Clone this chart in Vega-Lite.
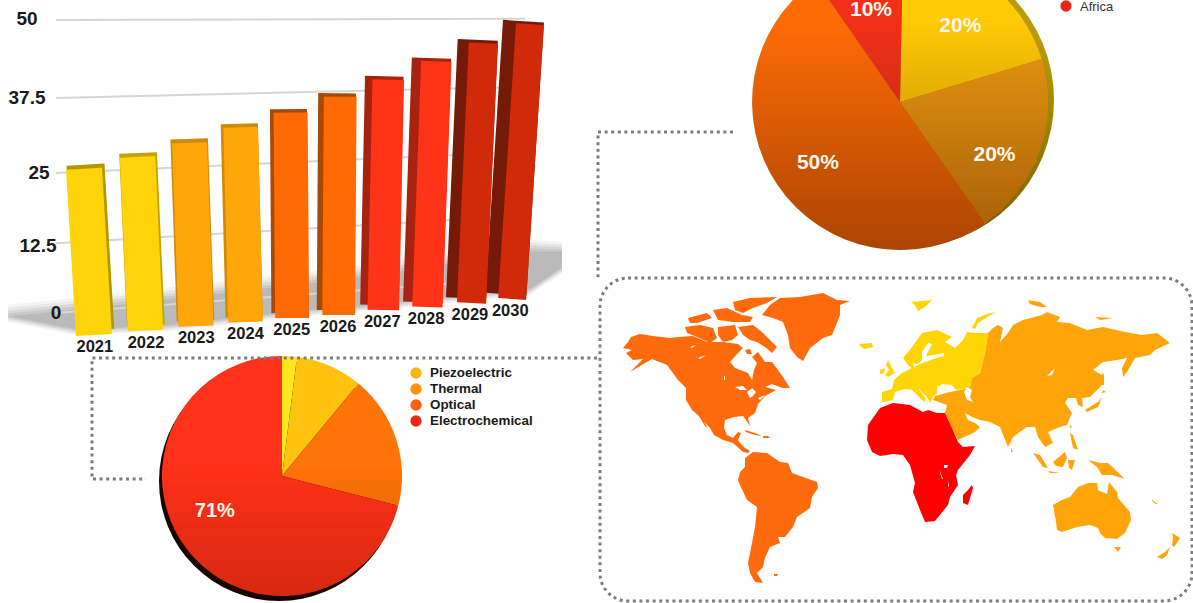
{
"$schema":"https://vega.github.io/schema/vega-lite/v6.json",
"width":1193,"height":603,"autosize":"none","padding":0,"background":"white",
"config":{"view":{"stroke":null},"text":{"font":"Liberation Sans"}},
"resolve":{"scale":{"x":"independent","y":"independent","color":"independent","theta":"independent","strokeWidth":"independent"}},
"datasets":{
"bars":[
{"year":2021,"value":25.3,"base":-2.88,"top":2021.0,"foot":2021.2},
{"year":2022,"value":27.3,"base":-2.12,"top":2022.08,"foot":2022.24},
{"year":2023,"value":29.7,"base":-1.36,"top":2023.13,"foot":2023.26},
{"year":2024,"value":32.3,"base":-0.68,"top":2024.16,"foot":2024.26},
{"year":2025,"value":34.8,"base":0,"top":2025.17,"foot":2025.2},
{"year":2026,"value":37.5,"base":0.51,"top":2026.17,"foot":2026.14},
{"year":2027,"value":40.4,"base":1.36,"top":2027.14,"foot":2027.04},
{"year":2028,"value":43.5,"base":1.86,"top":2028.11,"foot":2027.93},
{"year":2029,"value":46.6,"base":2.54,"top":2029.06,"foot":2028.82},
{"year":2030,"value":49.8,"base":3.22,"top":2030.0,"foot":2029.64}],
"grid":[
{"tick":50,"left":50,"right":50.2},
{"tick":37.5,"left":36.7,"right":38.6},
{"tick":25,"left":23.9,"right":27.5},
{"tick":12.5,"left":11.9,"right":16.6},
{"tick":0,"left":0,"right":6}],
"floor":[
{"pos":2019.41,"u1":1.4,"l1":-1.5,"u2":0.9,"l2":-1.25,"u3":0.4,"l3":-1,"u4":-0.1,"l4":-0.75,"u5":-0.6,"l5":-0.5},
{"pos":2020.83,"u1":2.6,"l1":-3.8,"u2":2.1,"l2":-3.55,"u3":1.6,"l3":-3.3,"u4":1.1,"l4":-3.05,"u5":0.6,"l5":-2.8},
{"pos":2022.67,"u1":4.3,"l1":-3.1,"u2":3.8,"l2":-2.85,"u3":3.3,"l3":-2.6,"u4":2.8,"l4":-2.35,"u5":2.3,"l5":-2.1},
{"pos":2025.55,"u1":7,"l1":-0.5,"u2":6.5,"l2":-0.25,"u3":6,"l3":0,"u4":5.5,"l4":0.25,"u5":5,"l5":0.5},
{"pos":2026.68,"u1":8.2,"l1":0.2,"u2":7.7,"l2":0.45,"u3":7.2,"l3":0.7,"u4":6.7,"l4":0.95,"u5":6.2,"l5":1.2},
{"pos":2030.13,"u1":12.5,"l1":3.1,"u2":12,"l2":3.35,"u3":11.5,"l3":3.6,"u4":11,"l4":3.85,"u5":10.5,"l5":4.1},
{"pos":2030.79,"u1":12.1,"l1":6.8,"u2":11.7,"l2":7.05,"u3":11.3,"l3":7.3,"u4":10.9,"l4":7.55,"u5":10.5,"l5":7.8}],
"regions":[
{"region":"Europe","rank":1,"share":0.2},
{"region":"Asia","rank":2,"share":0.2},
{"region":"Americas","rank":3,"share":0.5},
{"region":"Africa","rank":4,"share":0.1}],
"sensors":[
{"sensor":"Piezoelectric","rank":1,"share":0.02},
{"sensor":"Thermal","rank":2,"share":0.09},
{"sensor":"Optical","rank":3,"share":0.18},
{"sensor":"Electrochemical","rank":4,"share":0.71}]
},
"layer":[
{"layer":[
{"data":{"name":"floor"},"mark":{"type":"area","color":"#666666","opacity":0.07},
 "encoding":{"x":{"field":"pos","type":"quantitative","scale":{"domain":[2021,2030],"range":[85.5,523.5],"zero":false,"nice":false},"axis":null},
 "y":{"field":"u1","type":"quantitative","scale":{"domain":[0,50],"range":[313,20],"zero":false,"nice":false},"axis":null},"y2":{"field":"l1"}}},
{"data":{"name":"floor"},"mark":{"type":"area","color":"#666666","opacity":0.09},
 "encoding":{"x":{"field":"pos","type":"quantitative","axis":null},"y":{"field":"u2","type":"quantitative","axis":null},"y2":{"field":"l2"}}},
{"data":{"name":"floor"},"mark":{"type":"area","color":"#666666","opacity":0.11},
 "encoding":{"x":{"field":"pos","type":"quantitative","axis":null},"y":{"field":"u3","type":"quantitative","axis":null},"y2":{"field":"l3"}}},
{"data":{"name":"floor"},"mark":{"type":"area","color":"#666666","opacity":0.13},
 "encoding":{"x":{"field":"pos","type":"quantitative","axis":null},"y":{"field":"u4","type":"quantitative","axis":null},"y2":{"field":"l4"}}},
{"data":{"name":"floor"},"mark":{"type":"area","color":"#666666","opacity":0.15},
 "encoding":{"x":{"field":"pos","type":"quantitative","axis":null},"y":{"field":"u5","type":"quantitative","axis":null},"y2":{"field":"l5"}}},
{"data":{"name":"grid"},"mark":{"type":"rule","color":"#d6d6d6","strokeWidth":2},
 "encoding":{"x":{"value":56},"x2":{"value":525},"y":{"field":"left","type":"quantitative","axis":null},"y2":{"field":"right"}}},
{"data":{"name":"bars"},"mark":{"type":"rule"},
 "encoding":{"x":{"field":"top","type":"quantitative","axis":null},"x2":{"field":"foot"},
 "y":{"field":"value","type":"quantitative","axis":null},"y2":{"field":"base"},
 "strokeWidth":{"field":"year","type":"quantitative","legend":null,"scale":{"domain":[2021,2025,2030],"range":[38,37,41]}},
 "color":{"field":"year","type":"ordinal","legend":null,"scale":{"domain":[2021,2022,2023,2024,2025,2026,2027,2028,2029,2030],"range":["#b39700","#c4a200","#cf8a08","#cf8a08","#a84a05","#a84a05","#a82210","#a82210","#761a08","#761a08"]}}}}
]},

{"data":{"name":"bars"},"mark":{"type":"rule"},
 "encoding":{"x":{"field":"top","type":"quantitative","axis":null,"scale":{"domain":[2021,2030],"range":[84,530],"zero":false,"nice":false}},"x2":{"field":"foot"},
 "y":{"field":"value","type":"quantitative","axis":null,"scale":{"domain":[0,50],"range":[318,23],"zero":false,"nice":false}},"y2":{"field":"base"},
 "strokeWidth":{"field":"year","type":"quantitative","legend":null,"scale":{"domain":[2021,2025,2030],"range":[36,34,28]}},
 "color":{"field":"year","type":"ordinal","legend":null,"scale":{"domain":[2021,2022,2023,2024,2025,2026,2027,2028,2029,2030],"range":["#ffd40a","#ffd40a","#ffa60a","#ffa60a","#ff6a05","#ff6a05","#ff3318","#ff3318","#d12a0a","#d12a0a"]}}}},

{"data":{"name":"bars"},"mark":{"type":"text","fontSize":16.5,"fontWeight":"bold","color":"#1a1a1a","dy":12,"font":"Liberation Sans"},
 "encoding":{"x":{"field":"foot","type":"quantitative","axis":null,"scale":{"domain":[2021,2030],"range":[85,528],"zero":false,"nice":false}},
 "y":{"field":"base","type":"quantitative","axis":null,"scale":{"domain":[0,50],"range":[318,23],"zero":false,"nice":false}},
 "text":{"field":"year","type":"nominal"}}},

{"data":{"name":"grid"},"mark":{"type":"text","fontSize":19,"fontWeight":"bold","color":"#1a1a1a","font":"Liberation Sans"},
 "encoding":{"x":{"field":"tick","type":"quantitative","axis":null,"scale":{"domain":[0,12.5,25,37.5,50],"range":[56,38,39,27,27],"zero":false,"nice":false}},
 "y":{"field":"tick","type":"quantitative","axis":null,"scale":{"domain":[0,12.5,25,37.5,50],"range":[313,246,173,98,19],"zero":false,"nice":false}},
 "text":{"field":"tick","type":"nominal"}}},

{"data":{"values":{"type":"FeatureCollection","features":[
{"type":"Feature","properties":{"region":"Americas"},"geometry":{"type":"MultiPolygon","coordinates":[
[[[23,68],[28,62],[31,57],[40,54],[53,56],[70,58],[78,57],[93,56],[107,62],[123,62],[138,64],[143,68],[138,73],[130,82],[135,88],[148,93],[152,100],[154,90],[157,83],[152,77],[158,72],[165,82],[172,82],[178,90],[185,100],[190,108],[182,108],[172,104],[165,107],[176,110],[165,116],[158,124],[155,133],[148,138],[150,146],[146,140],[143,136],[134,137],[125,140],[124,148],[127,155],[133,158],[138,152],[141,153],[138,160],[140,163],[145,168],[150,171],[148,173],[143,172],[133,163],[123,160],[114,155],[110,148],[100,137],[92,130],[86,120],[86,108],[78,100],[67,85],[52,79],[45,83],[30,92],[43,79],[33,80],[26,73],[32,70],[23,68]]],
[[[97,133],[100,135],[108,148],[105,146],[97,133]]],
[[[85,47],[100,45],[113,48],[117,58],[110,63],[97,57],[87,53],[85,47]]],
[[[88,38],[107,33],[112,38],[97,43],[90,43],[88,38]]],
[[[113,30],[127,28],[142,35],[153,37],[150,42],[133,42],[118,40],[113,30]]],
[[[133,22],[150,18],[177,17],[167,23],[153,28],[143,33],[135,30],[133,22]]],
[[[118,47],[135,45],[138,55],[132,60],[123,62],[118,55],[118,47]]],
[[[138,47],[153,45],[162,52],[168,58],[177,67],[172,73],[165,67],[157,62],[150,60],[143,55],[138,47]]],
[[[145,70],[150,69],[152,74],[147,74],[145,70]]],
[[[162,35],[170,25],[180,18],[200,17],[223,13],[237,20],[250,21],[240,25],[240,35],[232,55],[223,58],[210,68],[203,81],[197,77],[190,68],[188,55],[183,42],[173,38],[162,35]]],
[[[145,150],[155,153],[162,156],[155,155],[146,152],[145,150]]],
[[[163,156],[168,156],[170,158],[163,158],[163,156]]],
[[[145,178],[153,172],[167,173],[180,182],[188,183],[192,193],[203,197],[217,202],[218,208],[212,217],[210,228],[197,237],[193,247],[185,257],[178,257],[180,263],[170,267],[165,278],[163,287],[157,293],[163,303],[155,302],[150,293],[148,283],[152,263],[155,247],[157,227],[147,220],[140,205],[138,200],[140,192],[145,187],[145,178]]],
[[[174,294],[178,294],[177,296],[174,296],[174,294]]]
]}},
{"type":"Feature","properties":{"region":"Asia"},"geometry":{"type":"MultiPolygon","coordinates":[
[[[388,53],[393,48],[398,45],[403,48],[400,62],[408,53],[413,45],[423,40],[442,35],[447,32],[460,37],[457,42],[470,43],[487,50],[503,47],[525,52],[542,55],[557,53],[570,63],[555,70],[550,75],[535,78],[527,92],[523,97],[522,88],[527,78],[517,80],[503,82],[493,90],[502,95],[502,105],[490,117],[482,118],[483,127],[478,125],[476,118],[468,118],[465,123],[472,133],[467,145],[457,148],[448,152],[453,163],[445,167],[438,157],[435,147],[427,147],[413,157],[408,167],[400,147],[390,142],[380,140],[372,137],[365,133],[368,140],[375,143],[380,147],[375,152],[358,160],[352,148],[345,133],[347,125],[333,120],[335,116],[350,112],[365,109],[370,107],[372,98],[380,93],[385,73],[388,53]]],
[[[485,130],[498,122],[502,117],[498,127],[487,132],[485,130]]],
[[[503,110],[506,112],[502,113],[503,110]]],
[[[502,93],[504,95],[504,105],[502,105],[502,93]]],
[[[428,20],[440,22],[447,27],[440,27],[430,24],[428,20]]],
[[[495,37],[513,38],[500,40],[495,37]]],
[[[411,168],[413,172],[411,172],[411,168]]],
[[[470,145],[472,147],[470,148],[470,145]]],
[[[433,173],[440,175],[448,188],[443,187],[433,173]]],
[[[448,191],[460,193],[450,193],[448,191]]],
[[[453,182],[465,172],[467,178],[463,187],[456,186],[453,182]]],
[[[468,180],[475,180],[472,190],[469,188],[468,180]]],
[[[488,180],[500,183],[508,183],[525,199],[512,195],[502,195],[497,187],[488,180]]],
[[[470,153],[473,155],[478,170],[473,168],[470,153]]],
[[[453,225],[462,220],[470,217],[478,207],[488,203],[497,203],[498,210],[507,214],[509,202],[517,212],[518,218],[530,232],[531,240],[525,253],[517,259],[505,258],[500,253],[498,248],[490,245],[477,247],[462,252],[457,250],[456,242],[453,225]]],
[[[514,267],[521,267],[518,272],[514,267]]],
[[[572,253],[580,258],[574,267],[572,265],[573,258],[572,253]]],
[[[570,267],[567,275],[562,279],[557,277],[565,272],[570,267]]],
[[[552,220],[558,224],[556,224],[552,221],[552,220]]]
]}},
{"type":"Feature","properties":{"region":"Europe"},"geometry":{"type":"MultiPolygon","coordinates":[
[[[282,122],[282,112],[292,109],[294,100],[302,93],[312,88],[308,85],[303,78],[312,67],[322,53],[337,50],[352,57],[345,62],[355,68],[363,60],[367,52],[375,53],[388,53],[385,73],[380,93],[372,98],[370,107],[365,109],[356,110],[352,105],[343,104],[337,107],[337,113],[333,117],[330,123],[327,117],[318,108],[326,119],[324,122],[312,110],[305,109],[295,112],[293,120],[285,122],[282,122]]],
[[[288,80],[292,88],[295,93],[288,97],[285,95],[289,90],[286,85],[288,80]]],
[[[280,90],[285,88],[284,93],[280,94],[280,90]]],
[[[259,64],[272,63],[273,67],[265,69],[261,67],[259,64]]],
[[[311,22],[332,20],[325,27],[318,31],[315,25],[311,22]]],
[[[372,48],[377,38],[387,34],[396,32],[387,37],[378,43],[375,49],[372,48]]]
]}},
{"type":"Feature","properties":{"region":"Africa"},"geometry":{"type":"MultiPolygon","coordinates":[
[[[280,128],[293,123],[310,125],[323,132],[328,130],[337,133],[345,133],[352,148],[358,162],[363,167],[375,166],[370,175],[358,190],[356,195],[358,205],[350,217],[348,225],[335,241],[325,242],[320,230],[313,212],[315,203],[310,185],[303,175],[293,174],[280,176],[272,172],[267,160],[268,145],[280,128]]],
[[[372,205],[373,208],[368,225],[363,223],[363,215],[368,210],[372,205]]]
]}},
{"type":"Feature","properties":{"region":"Water"},"geometry":{"type":"MultiPolygon","coordinates":[
[[[135,107],[143,106],[147,110],[140,110],[135,107]]],
[[[147,112],[152,108],[156,112],[153,116],[150,118],[147,112]]],
[[[158,118],[165,115],[160,120],[158,118]]],
[[[90,67],[96,65],[92,68],[90,67]]],
[[[98,78],[106,75],[100,79],[98,78]]],
[[[124,96],[125,96],[125,100],[124,100],[124,96]]],
[[[314,87],[320,84],[328,81],[336,78],[344,76],[344,73],[333,75],[326,76],[332,64],[328,63],[322,72],[322,80],[318,84],[313,83],[314,87]]],
[[[367,107],[372,110],[370,117],[373,122],[367,120],[364,112],[367,107]]],
[[[447,96],[455,88],[452,95],[447,96]]],
[[[344,185],[348,185],[347,188],[344,188],[344,185]]],
[[[340,191],[343,199],[342,199],[340,192],[340,191]]],
[[[348,201],[349,206],[348,207],[348,201]]]
]}}
]},"format":{"type":"json","property":"features"}},
"projection":{"type":"identity","scale":1,"translate":[600,280]},
"mark":{"type":"geoshape"},
"encoding":{"color":{"field":"properties.region","type":"nominal","legend":null,"scale":{"domain":["Americas","Asia","Europe","Africa","Water"],"range":["#ff6a0c","#ffa409","#ffd505","#ff0000","#ffffff"]}}}},

{"layer":[
{"data":{"values":[{"name":"rim"}]},"mark":{"type":"arc","theta":0,"theta2":6.2832,"outerRadius":148,"fill":{"x1":0,"y1":0,"x2":0,"y2":1,"gradient":"linear","stops":[{"offset":0.3,"color":"#b89b05"},{"offset":1,"color":"#7a5a05"}]}},
 "encoding":{"x":{"value":906},"y":{"value":100}}},
{"data":{"name":"regions"},"mark":{"type":"arc","outerRadius":148},
 "encoding":{"x":{"value":900},"y":{"value":102},
 "theta":{"field":"share","type":"quantitative","stack":true,"scale":{"domain":[0,1],"range":[0.02,6.303]}},
 "order":{"field":"rank"},
 "color":{"field":"region","type":"nominal","legend":null,"scale":{"domain":["Europe","Asia","Americas","Africa"],"range":["#ffcb05","#eb9a10","#ff6c05","#f2301a"]}}}},
{"data":{"values":[{"name":"shade"}]},"mark":{"type":"arc","theta":0,"theta2":6.2832,"outerRadius":148,"fill":{"x1":0,"y1":0,"x2":0,"y2":1,"gradient":"linear","stops":[{"offset":0.22,"color":"rgba(90,30,0,0)"},{"offset":1,"color":"rgba(90,30,0,0.5)"}]}},
 "encoding":{"x":{"value":900},"y":{"value":102}}},
{"data":{"name":"regions"},"mark":{"type":"text","radius":100,"dy":4,"fontSize":21,"fontWeight":"bold","color":"#fff7ee","font":"Liberation Sans"},
 "encoding":{"x":{"value":900},"y":{"value":102},
 "theta":{"field":"share","type":"quantitative","stack":true,"scale":{"domain":[0,1],"range":[0.02,6.303]}},
 "order":{"field":"rank"},"detail":{"field":"region"},
 "text":{"condition":{"test":"datum.region != 'Asia'","field":"share","type":"quantitative","format":".0%"},"value":""}}}
]},

{"layer":[
{"data":{"name":"regions"},"mark":{"type":"text","radius":100,"dy":20,"fontSize":21,"fontWeight":"bold","color":"#fff7ee","font":"Liberation Sans"},
 "encoding":{"x":{"value":900},"y":{"value":102},
 "theta":{"field":"share","type":"quantitative","stack":true,"scale":{"domain":[0,1],"range":[0.02,6.303]}},
 "order":{"field":"rank"},"detail":{"field":"region"},
 "text":{"condition":{"test":"datum.region == 'Asia'","field":"share","type":"quantitative","format":".0%"},"value":""}}}
]},

{"layer":[
{"data":{"values":[{"name":"edge"}]},"mark":{"type":"arc","theta":0,"theta2":6.2832,"outerRadius":120,"fill":"#170500"},
 "encoding":{"x":{"value":279},"y":{"value":481}}},
{"data":{"name":"sensors"},"mark":{"type":"arc","outerRadius":120},
 "encoding":{"x":{"value":282},"y":{"value":476},
 "theta":{"field":"share","type":"quantitative","stack":true,"scale":{"domain":[0,1]}},
 "order":{"field":"rank"},
 "color":{"field":"sensor","type":"nominal","legend":null,"scale":{"domain":["Piezoelectric","Thermal","Optical","Electrochemical"],"range":["#ffe61e","#ffc20f","#ff7408","#ff3118"]}}}},
{"data":{"values":[{"name":"shade"}]},"mark":{"type":"arc","theta":0,"theta2":6.2832,"outerRadius":120,"fill":{"x1":0,"y1":0,"x2":0,"y2":1,"gradient":"linear","stops":[{"offset":0.45,"color":"rgba(120,20,0,0)"},{"offset":1,"color":"rgba(120,20,0,0.3)"}]}},
 "encoding":{"x":{"value":282},"y":{"value":476}}},
{"data":{"name":"sensors"},"mark":{"type":"text","radius":85,"dy":-17,"fontSize":20,"fontWeight":"bold","color":"#fff7ee","font":"Liberation Sans"},
 "encoding":{"x":{"value":282},"y":{"value":476},
 "theta":{"field":"share","type":"quantitative","stack":true,"scale":{"domain":[0,1]}},
 "order":{"field":"rank"},"detail":{"field":"sensor"},
 "text":{"condition":{"test":"datum.share > 0.5","field":"share","type":"quantitative","format":".0%"},"value":""}}}
]},

{"data":{"values":{"type":"Feature","properties":{"name":"connectors"},"geometry":{"type":"MultiLineString","coordinates":[[[133,-148],[-2,-148],[-2,0]],[[-3,78],[-508,78],[-508,199],[-454,199]]]}}},
"projection":{"type":"identity","scale":1,"translate":[600,280]},
"mark":{"type":"geoshape","filled":false,"stroke":"#7d7d7d","strokeWidth":3,"strokeDash":[3,3.6]},"encoding":{}},

{"data":{"values":[{"name":"frame"}]},"mark":{"type":"rect","fill":"transparent","stroke":"#7d7d7d","strokeWidth":3,"strokeDash":[3,3.6],"cornerRadius":28},
"encoding":{"x":{"value":600},"x2":{"value":1192},"y":{"value":278},"y2":{"value":601}}},

{"data":{"name":"sensors"},"mark":{"type":"point","filled":true,"opacity":1,"size":127,"shape":"circle"},
 "encoding":{"x":{"value":416},
 "y":{"field":"rank","type":"quantitative","axis":null,"scale":{"domain":[1,4],"range":[373,421],"zero":false,"nice":false}},
 "color":{"field":"sensor","type":"nominal","legend":null,"scale":{"domain":["Piezoelectric","Thermal","Optical","Electrochemical"],"range":["#f5b70f","#ff950a","#ff5f0f","#f0261a"]}}}},
{"data":{"name":"sensors"},"mark":{"type":"text","align":"left","fontSize":13.4,"fontWeight":"bold","color":"#1a1a1a","font":"Liberation Sans"},
 "encoding":{"x":{"value":430},
 "y":{"field":"rank","type":"quantitative","axis":null,"scale":{"domain":[1,4],"range":[373,421],"zero":false,"nice":false}},
 "text":{"field":"sensor","type":"nominal"}}},
{"data":{"name":"regions"},"transform":[{"filter":"datum.region == 'Africa'"}],"mark":{"type":"point","filled":true,"opacity":1,"size":127,"shape":"circle"},
 "encoding":{"x":{"value":1066},"y":{"value":6},"color":{"value":"#e8261a"}}},
{"data":{"name":"regions"},"transform":[{"filter":"datum.region == 'Africa'"}],"mark":{"type":"text","align":"left","fontSize":13,"color":"#333333","font":"Liberation Sans"},
 "encoding":{"x":{"value":1080},"y":{"value":7},"text":{"field":"region","type":"nominal"}}}
]
}
